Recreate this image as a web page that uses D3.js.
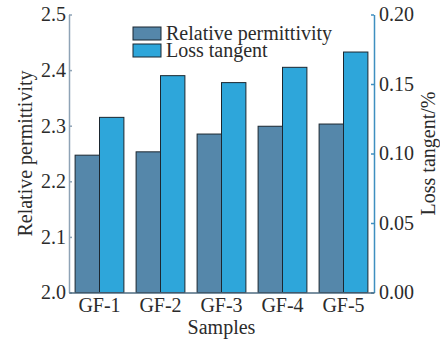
<!DOCTYPE html>
<html>
<head>
<meta charset="utf-8">
<script src="https://cdn.jsdelivr.net/npm/d3@7/dist/d3.min.js"></script>
<style>
  html, body { margin: 0; padding: 0; background: #fff; }
  svg { display: block; }
</style>
</head>
<body>
<svg id="chart" width="440" height="341"></svg>
<script>
// Dielectric properties of the GF samples
const samples = ["GF-1", "GF-2", "GF-3", "GF-4", "GF-5"];
const permittivity = [2.247, 2.253, 2.285, 2.299, 2.303];
const lossTangent = [0.126, 0.156, 0.151, 0.162, 0.173];
const leftTicks = [2.0, 2.1, 2.2, 2.3, 2.4, 2.5];
const rightTicks = [0.00, 0.05, 0.10, 0.15, 0.20];
const seriesNames = ["Relative permittivity", "Loss tangent"];
const seriesColors = ["#5587aa", "#2ea6da"];

const FONT = "'Liberation Serif', 'Times New Roman', serif";
const FS = "20px";
const TEXT = "#2b2b2b";

const svg = d3.select("#chart");
const margin = { left: 69, right: 66, top: 14.5, bottom: 48.5 };
const W = 440, H = 341;
const x0 = margin.left, x1 = W - margin.right;
const y0 = H - margin.bottom, y1 = margin.top;

const x = d3.scaleBand().domain(samples).range([x0, x1]).paddingInner(0.2).paddingOuter(0.1);
const xs = d3.scaleBand().domain([0, 1]).range([0, x.bandwidth()]);
const yL = d3.scaleLinear().domain([2.0, 2.5]).range([y0, y1]);
const yR = d3.scaleLinear().domain([0, 0.2]).range([y0, y1]);

// bars: permittivity on the left scale, loss tangent on the right scale
const g = svg.append("g");
samples.forEach((s, i) => {
  g.append("rect")
    .attr("x", x(s) + xs(0)).attr("y", yL(permittivity[i]))
    .attr("width", xs.bandwidth()).attr("height", yL(2.0) - yL(permittivity[i]))
    .attr("fill", seriesColors[0]).attr("stroke", "#1b2730").attr("stroke-width", 1);
  g.append("rect")
    .attr("x", x(s) + xs(1)).attr("y", yR(lossTangent[i]))
    .attr("width", xs.bandwidth()).attr("height", yR(0) - yR(lossTangent[i]))
    .attr("fill", seriesColors[1]).attr("stroke", "#1b2730").attr("stroke-width", 1);
});

function styleTicks(ax) {
  ax.attr("font-family", FONT).attr("font-size", FS);
  ax.selectAll(".tick text").attr("fill", TEXT);
}

// left axis
const axL = svg.append("g").attr("transform", `translate(${x0},0)`)
  .call(d3.axisLeft(yL).tickValues(leftTicks).tickFormat(d3.format(".1f")).tickSizeInner(-3).tickSizeOuter(0).tickPadding(3));
axL.select(".domain").attr("stroke", "#8ea3b6").attr("stroke-width", 1.5);
axL.selectAll(".tick line").attr("stroke", "#8ea3b6").attr("stroke-width", 1.5);
styleTicks(axL);

// right axis
const axR = svg.append("g").attr("transform", `translate(${x1},0)`)
  .call(d3.axisRight(yR).tickValues(rightTicks).tickFormat(d3.format(".2f")).tickSizeInner(-3).tickSizeOuter(0).tickPadding(5));
axR.select(".domain").attr("stroke", "#3f8fc0").attr("stroke-width", 1.5);
axR.selectAll(".tick line").attr("stroke", "#3f8fc0").attr("stroke-width", 1.5);
styleTicks(axR);

// bottom axis
const axB = svg.append("g").attr("transform", `translate(0,${y0})`)
  .call(d3.axisBottom(x).tickSize(0).tickPadding(5));
axB.select(".domain").attr("stroke", "#4e6b80").attr("stroke-width", 1.5);
styleTicks(axB);

// axis titles
const title = (sel) => sel.attr("font-family", FONT).attr("font-size", FS).attr("fill", TEXT).attr("text-anchor", "middle");
svg.append("text").call(title).attr("x", (x0 + x1) / 2).attr("y", 334).text("Samples");
svg.append("text").call(title)
  .attr("transform", `translate(32,${(y0 + y1) / 2}) rotate(-90)`).text("Relative permittivity");
svg.append("text").call(title)
  .attr("transform", `translate(435,${(y0 + y1) / 2}) rotate(-90)`).text("Loss tangent/%");

// legend
const leg = svg.append("g").attr("transform", "translate(133,27)");
seriesNames.forEach((n, i) => {
  leg.append("rect").attr("x", 0).attr("y", i * 17).attr("width", 28).attr("height", 13)
    .attr("fill", seriesColors[i]).attr("stroke", "#1b2730").attr("stroke-width", 1);
  leg.append("text").attr("x", 33).attr("y", i * 17 + 13)
    .attr("font-family", FONT).attr("font-size", FS).attr("fill", TEXT).text(n);
});
</script>
</body>
</html>
